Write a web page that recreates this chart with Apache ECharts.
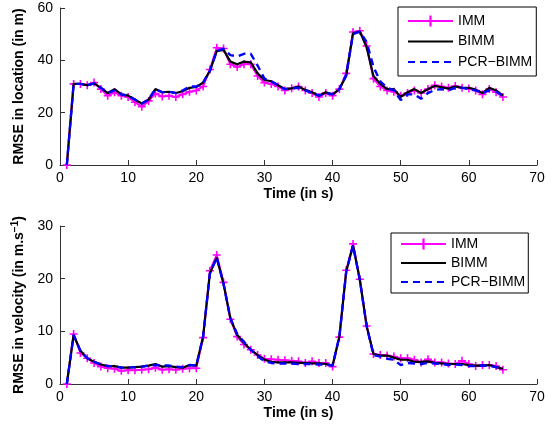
<!DOCTYPE html>
<html>
<head>
<meta charset="utf-8">
<script src="https://cdn.jsdelivr.net/npm/echarts@6/dist/echarts.min.js"></script>
<style>html,body{margin:0;padding:0;background:#fff;}#c{width:557px;height:426px;}</style>
</head>
<body>
<div id="c"></div>
<script>
var times = [1,2,3,4,5,6,7,8,9,10,11,12,13,14,15,16,17,18,19,20,21,22,23,24,25,26,27,28,29,30,31,32,33,34,35,36,37,38,39,40,41,42,43,44,45,46,47,48,49,50,51,52,53,54,55,56,57,58,59,60,61,62,63,64,65];
var seriesNames = ['IMM', 'BIMM', 'PCR\u2212BIMM'];
var xTicks = [0, 10, 20, 30, 40, 50, 60, 70];
var locTicks = [0, 20, 40, 60];
var velTicks = [0, 10, 20, 30];

var locIMM = [0,31,31,30.5,31.5,29,26.5,27.8,26.5,26,24,22.3,24.5,27.3,26.2,26.5,26,27,28,28.5,30,36.5,44.8,44.5,38.5,37.5,38.5,38.5,34,31.5,31,30,28.5,29.3,30,28.5,27.5,26,27.5,26.5,29,35,50.8,51.3,45.5,33,30,28.5,28,26.5,27.5,28.5,27.5,29,30.5,30,29.5,30.2,29.5,29.2,28.5,27,29,27.8,26];
var locBIMM = [0,31,31,30.5,31.2,29.5,27.5,29,27,26.5,25,23.5,25,29,27.8,28,27.5,28.2,29.5,29.8,31.5,36,43.5,44,39.5,38.5,39.5,39.2,35,32.5,32,30.5,29,29.3,30,28.7,27.8,26.5,27.8,27,29,34,50.3,51,45,34,31,29,29,26,27.8,29,27.5,29,30.2,29.7,29.2,30,29.5,29.5,28.8,27.5,29.5,28.5,26.5];
var locPCR = [0,31,31,30.5,31.2,29.5,27.5,28.5,27,26.5,25,23.5,25,29,27.8,28,27.5,28.5,30,30,31.5,36,43.5,44.5,42,41.5,42.5,42.5,38,33,32,30.5,29,29.3,29.5,28.5,27.5,26.5,27.5,27,29,34.5,50,51,47,37.5,32,29.5,28.5,24.8,27,27,25.3,27.5,28.7,29,28.5,29.5,29.5,29,28.5,27.5,28.5,28,26.5];

var velIMM = [0,9.5,5.9,4.9,4.0,3.3,3.0,2.9,2.5,2.6,2.6,2.7,2.8,3.1,2.7,2.8,2.7,2.9,3.0,3.0,8.8,21.5,24.5,19.3,12.3,9.0,7.5,6.5,5.5,4.8,4.7,4.6,4.5,4.4,4.3,4.0,4.3,4.0,4.0,3.3,8.9,21.6,26.6,19.9,11,5.7,5.5,5.4,5.2,4.9,4.9,4.6,4.1,4.7,4.1,4.1,3.9,3.8,4.4,3.8,3.4,3.6,3.6,3.4,2.7];
var velBIMM = [0,9.3,6.3,4.9,4.2,3.7,3.4,3.4,3.1,3.1,3.2,3.3,3.5,3.8,3.3,3.4,3.2,3.1,3.6,3.5,9,21,24,19,12.5,9.3,7.8,6.5,5.5,4.6,4.2,4.1,4.1,4.1,4.0,4.0,3.9,3.9,3.8,3.5,9,21.3,26.3,19.8,11,5.7,5.4,5.4,5.0,4.6,4.6,4.2,4.2,4.3,4.0,3.9,3.8,3.8,3.8,3.6,3.5,3.5,3.6,3.2,2.9];
var velPCR = [0,9.3,6.3,4.9,4.2,3.7,3.4,3.4,3.1,3.1,3.2,3.3,3.5,3.6,3.5,3.5,3.3,3.2,3.6,3.5,9,21,24,19,12.5,9.5,8,6.5,5.3,4.3,4.0,3.9,3.9,3.9,3.8,3.8,3.8,3.7,3.7,3.5,9,21.3,26.3,19.8,11,5.5,5.2,4.8,4.6,3.6,4.0,3.9,3.8,4.0,3.9,3.8,3.6,3.7,3.6,3.4,3.4,3.5,3.4,3.2,2.9];

function pairs(vals) { return times.map(function (t, i) { return [t, vals[i]]; }); }

var FONT = 'Liberation Sans, Arial, Helvetica, sans-serif';
var AX = '#333';
var plus = 'path://M-1,-5 L1,-5 L1,-1 L5,-1 L5,1 L1,1 L1,5 L-1,5 L-1,1 L-5,1 L-5,-1 L-1,-1 Z';

function xAxis(gi) {
  return {
    type: 'value', gridIndex: gi, min: xTicks[0], max: xTicks[xTicks.length - 1], interval: 10,
    name: 'Time (in s)', nameLocation: 'middle', nameGap: 22,
    nameTextStyle: { fontFamily: FONT, fontSize: 14, fontWeight: 'bold', color: '#000' },
    axisLine: { show: true, onZero: false, lineStyle: { color: AX, width: 1 } },
    axisTick: { show: true, inside: true, length: 5, lineStyle: { color: AX } },
    axisLabel: { fontFamily: FONT, fontSize: 14, color: '#000', margin: 6 },
    splitLine: { show: false }
  };
}
function yAxis(gi, ticks, name) {
  return {
    type: 'value', gridIndex: gi, min: ticks[0], max: ticks[ticks.length - 1], interval: ticks[1] - ticks[0],
    name: name, nameLocation: 'middle', nameGap: 28,
    nameTextStyle: {
      fontFamily: FONT, fontSize: 14, fontWeight: 'bold', color: '#000',
      rich: {
        a: { fontFamily: FONT, fontSize: 14, fontWeight: 'bold', color: '#000', lineHeight: 16, verticalAlign: 'bottom' },
        s: { fontFamily: FONT, fontSize: 10, fontWeight: 'bold', color: '#000', lineHeight: 16, verticalAlign: 'top', padding: [0, 0, 6, 0] }
      }
    },
    axisLine: { show: true, lineStyle: { color: AX, width: 1 } },
    axisTick: { show: true, inside: true, length: 5, lineStyle: { color: AX } },
    axisLabel: { fontFamily: FONT, fontSize: 14, color: '#000', margin: 7 },
    splitLine: { show: false }
  };
}
function mkSeries(gi, imm, bimm, pcr) {
  return [
    { name: seriesNames[0], type: 'line', xAxisIndex: gi, yAxisIndex: gi, data: pairs(imm),
      symbol: plus, symbolSize: 8, showAllSymbol: true, animation: false,
      itemStyle: { color: '#ff00ff' }, lineStyle: { color: '#ff00ff', width: 2 }, z: 2 },
    { name: seriesNames[1], type: 'line', xAxisIndex: gi, yAxisIndex: gi, data: pairs(bimm),
      symbol: 'none', animation: false,
      itemStyle: { color: '#000' }, lineStyle: { color: '#000', width: 2.2 }, z: 3 },
    { name: seriesNames[2], type: 'line', xAxisIndex: gi, yAxisIndex: gi, data: pairs(pcr),
      symbol: 'none', animation: false,
      itemStyle: { color: '#0000ff' }, lineStyle: { color: '#0000ff', width: 2.4, type: [7, 5] }, z: 4 }
  ];
}
function legend(left, top, pad, gap) {
  return {
    data: [
      { name: seriesNames[0] },
      { name: seriesNames[1], itemStyle: { opacity: 0 } },
      { name: seriesNames[2], itemStyle: { opacity: 0 } }
    ],
    left: left, top: top, orient: 'vertical',
    padding: pad, itemGap: gap, itemWidth: 45, itemHeight: 14,
    backgroundColor: '#fff', borderColor: '#000', borderWidth: 1, borderRadius: 0,
    selectedMode: false,
    textStyle: { fontFamily: FONT, fontSize: 14, color: '#000' }
  };
}

var chart = echarts.init(document.getElementById('c'), null, { renderer: 'canvas' });
chart.setOption({
  animation: false,
  backgroundColor: '#fff',
  grid: [
    { left: 60, top: 8, width: 477, height: 157 },
    { left: 60, top: 226, width: 477, height: 158 }
  ],
  xAxis: [xAxis(0), xAxis(1)],
  yAxis: [
    yAxis(0, locTicks, 'RMSE in location (in m)'),
    yAxis(1, velTicks, '{a|RMSE in velocity (in m.s}{s|\u22121}{a|)}')
  ],
  legend: [legend(398, 7, [7, 4, 7, 9], 6.5), legend(391, 233, [4, 3, 4, 9], 5)],
  series: mkSeries(0, locIMM, locBIMM, locPCR).concat(mkSeries(1, velIMM, velBIMM, velPCR))
});
</script>
</body>
</html>
